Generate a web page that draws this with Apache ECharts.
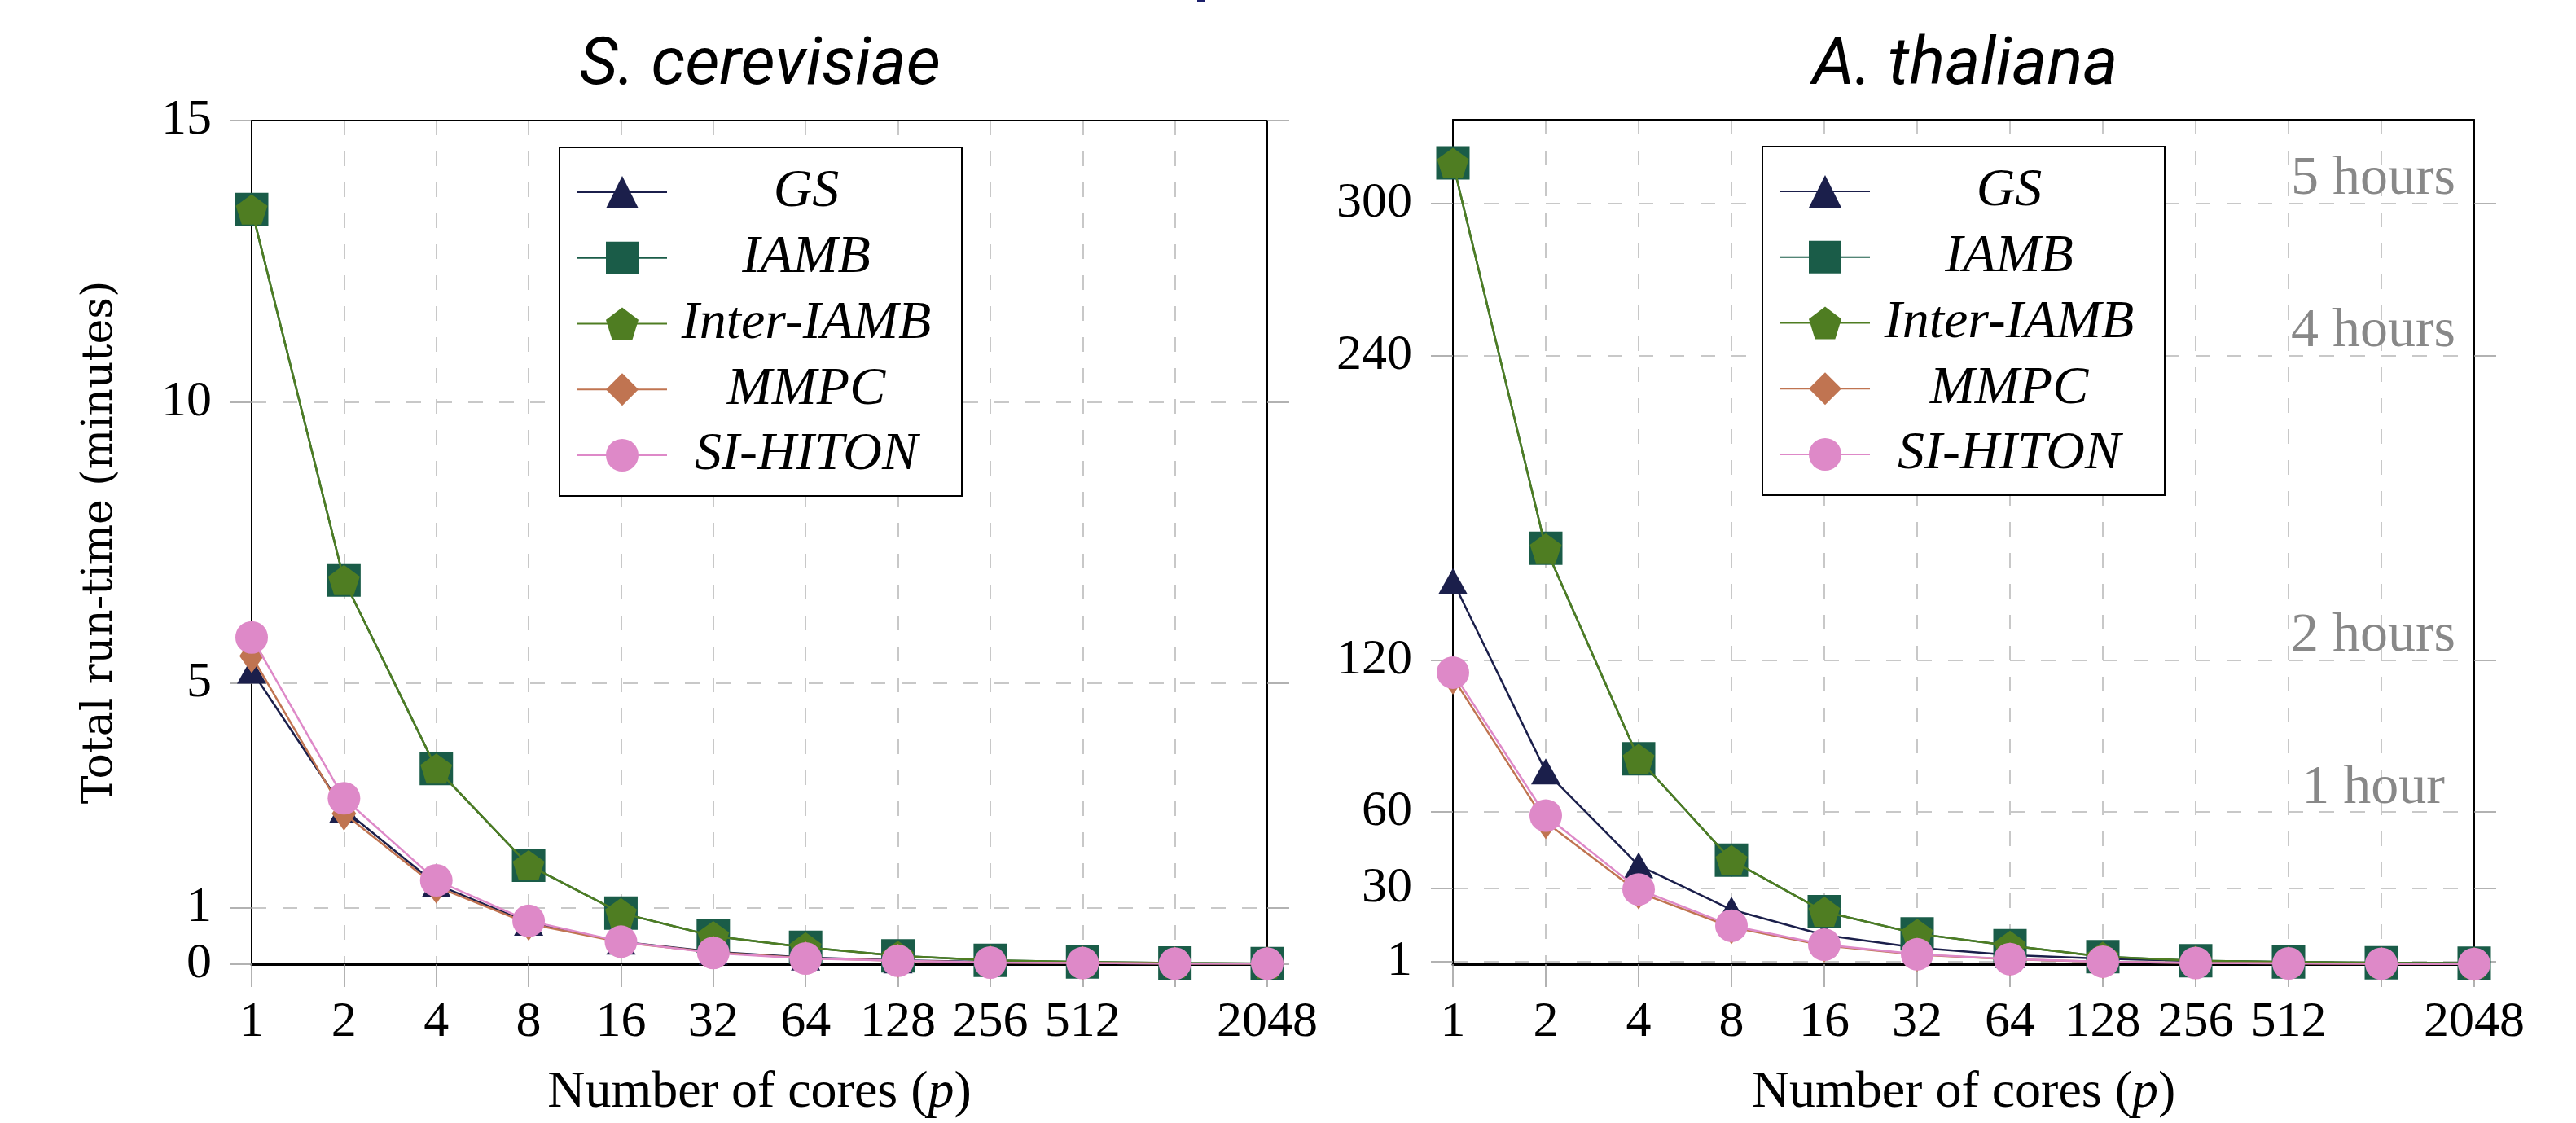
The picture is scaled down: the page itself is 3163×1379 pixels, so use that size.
<!DOCTYPE html>
<html>
<head>
<meta charset="utf-8">
<script src="https://cdn.jsdelivr.net/npm/echarts@6/dist/echarts.min.js"></script>
<style>
html,body{margin:0;padding:0;background:#fff;}
#chart{width:3163px;height:1379px;}
</style>
</head>
<body>
<div id="chart"></div>
<script>
// ---------- data ----------
var cores = ['1','2','4','8','16','32','64','128','256','512','1024','2048'];
var seriesNames = ['GS','IAMB','Inter-IAMB','MMPC','SI-HITON'];

// S. cerevisiae (minutes)
var scGS    = [5.22, 2.75, 1.42, 0.74, 0.40, 0.22, 0.12, 0.07, 0.04, 0.02, 0.01, 0.01];
var scIAMB  = [13.42, 6.83, 3.48, 1.76, 0.91, 0.50, 0.30, 0.15, 0.07, 0.04, 0.02, 0.01];
var scInter = [13.42, 6.83, 3.48, 1.76, 0.91, 0.50, 0.30, 0.15, 0.07, 0.04, 0.02, 0.01];
var scMMPC  = [5.48, 2.68, 1.38, 0.72, 0.39, 0.21, 0.11, 0.06, 0.03, 0.02, 0.01, 0.01];
var scSI    = [5.81, 2.95, 1.49, 0.77, 0.40, 0.20, 0.10, 0.06, 0.03, 0.02, 0.01, 0.01];

// A. thaliana (minutes)
var atGS    = [151, 76, 39, 21.5, 11.5, 6.5, 3.6, 2.2, 1.3, 0.8, 0.5, 0.3];
var atIAMB  = [316, 164, 81, 41, 20.7, 12, 7.3, 3, 1.4, 0.9, 0.6, 0.4];
var atInter = [316, 164, 81, 41, 20.7, 12, 7.3, 3, 1.4, 0.9, 0.6, 0.4];
var atMMPC  = [113, 56, 28.3, 14.6, 7.4, 3.8, 1.9, 1.0, 0.5, 0.3, 0.2, 0.1];
var atSI    = [115, 58.6, 29.5, 15.2, 7.7, 3.9, 2.0, 1.0, 0.5, 0.3, 0.2, 0.1];

// tick labels
var scTicks = [0, 1, 5, 10, 15];
var atTicks = [1, 30, 60, 120, 240, 300];
var hiddenXLabel = '1024';
var hourLabels = ['5 hours', '4 hours', '2 hours', '1 hour'];
var hourValues = [300, 240, 120, 60];
var hourAnchor = '1024';

// ---------- styles ----------
var SERIF = 'Liberation Serif';
var colors = ['#1b1f4b', '#1a5c48', '#4f7d22', '#c07451', '#de89c8'];
var pentagon = 'path://M0,-1 L0.951,-0.309 L0.588,0.809 L-0.588,0.809 L-0.951,-0.309 Z';
var symbols = ['triangle', 'rect', pentagon, 'diamond', 'circle'];
var symbolSizes = [[36, 32], [41, 41], [39, 37], [30, 42], [40, 40]];
var gridDash = {color: '#c8c8c8', width: 2, type: [18, 20]};
var tickStyle = {color: '#999', width: 1.5};

var chart = echarts.init(document.getElementById('chart'), null, {renderer: 'canvas'});

function makeX(gridIndex) {
  return {
    type: 'category', gridIndex: gridIndex, data: cores, boundaryGap: false, position: 'bottom', z: 0,
    axisLine: {show: true, onZero: false, lineStyle: {color: '#000', width: 3}},
    axisTick: {show: true, inside: false, length: 28, interval: 0, lineStyle: tickStyle},
    axisLabel: {interval: 0, margin: 41, fontFamily: SERIF, fontSize: 62, color: '#000',
      formatter: function (v) { return v === hiddenXLabel ? '' : v; }},
    splitLine: {show: true, interval: 0, lineStyle: gridDash},
    name: 'Number of cores ({i|p})', nameLocation: 'middle', nameGap: 126,
    nameTextStyle: {fontFamily: SERIF, fontSize: 64, color: '#000',
      rich: {i: {fontFamily: SERIF, fontSize: 64, fontStyle: 'italic', color: '#000'}}}
  };
}
function makeXTop(gridIndex) {
  return {
    type: 'category', gridIndex: gridIndex, data: cores, boundaryGap: false, position: 'top', z: 1,
    axisLine: {show: true, onZero: false, lineStyle: {color: '#000', width: 2}},
    axisTick: {show: false}, axisLabel: {show: false}, splitLine: {show: false}
  };
}
function makeYLeft(gridIndex, max, ticks, margin, name) {
  var o = {
    type: 'value', gridIndex: gridIndex, min: 0, max: max, position: 'left', z: 0,
    axisLine: {show: true, lineStyle: {color: '#000', width: 2}},
    axisTick: {show: true, inside: false, length: 27, customValues: ticks, lineStyle: tickStyle},
    axisLabel: {show: true, margin: margin, customValues: ticks, fontFamily: SERIF, fontSize: 62, color: '#000'},
    splitLine: {show: true, lineStyle: gridDash}
  };
  if (name) {
    o.name = name; o.nameLocation = 'middle'; o.nameGap = 160;
    o.nameTextStyle = {fontFamily: 'DejaVu Serif', fontSize: 52, color: '#000'};
  }
  return o;
}
function makeYRight(gridIndex, max, ticks) {
  return {
    type: 'value', gridIndex: gridIndex, min: 0, max: max, position: 'right', z: 1,
    axisLine: {show: true, lineStyle: {color: '#000', width: 2}},
    axisTick: {show: true, inside: false, length: 27, customValues: ticks, lineStyle: tickStyle},
    axisLabel: {show: false, customValues: ticks},
    splitLine: {show: false}
  };
}
function makeSeries(xi, yi, datas) {
  return datas.map(function (d, k) {
    return {
      name: seriesNames[k], type: 'line', xAxisIndex: xi, yAxisIndex: yi, data: d,
      symbol: symbols[k], symbolSize: symbolSizes[k], showSymbol: true, showAllSymbol: true,
      clip: false, z: 3 + k,
      lineStyle: {color: colors[k], width: 2.5},
      itemStyle: {color: colors[k]},
      emphasis: {disabled: true}
    };
  });
}
function makeLegend(left, top) {
  return {
    data: seriesNames, orient: 'vertical', left: left, top: top, z: 10,
    itemWidth: 110, itemHeight: 50, itemGap: 14.75,
    padding: [22, 25, 17, 21],
    backgroundColor: '#fff', borderColor: '#000', borderWidth: 2,
    selectedMode: false,
    formatter: function (n) { return '{t|' + n + '}'; },
    textStyle: {rich: {t: {width: 332, align: 'center', fontSize: 66, lineHeight: 60,
      fontStyle: 'italic', fontFamily: SERIF, color: '#000'}}}
  };
}

var leftSeries = makeSeries(0, 0, [scGS, scIAMB, scInter, scMMPC, scSI]);
var rightSeries = makeSeries(2, 2, [atGS, atIAMB, atInter, atMMPC, atSI]);
rightSeries[0].markPoint = {
  symbol: 'circle', symbolSize: 1, silent: true,
  itemStyle: {color: 'rgba(0,0,0,0)'},
  label: {show: true, position: 'top', distance: 1, offset: [-10, 6], fontFamily: SERIF, fontSize: 68, color: '#888',
    formatter: function (p) { return p.name; }},
  data: hourLabels.map(function (l, i) { return {name: l, coord: [hourAnchor, hourValues[i]]}; })
};

chart.setOption({
  animation: false,
  backgroundColor: '#fff',
  title: [
    {text: 'S. cerevisiae', left: 928, top: 36, textAlign: 'center',
      textStyle: {fontFamily: 'Roboto', fontStyle: 'italic', fontWeight: 'normal', fontSize: 82, color: '#000'}},
    {text: 'A. thaliana', left: 2408, top: 36, textAlign: 'center',
      textStyle: {fontFamily: 'Roboto', fontStyle: 'italic', fontWeight: 'normal', fontSize: 82, color: '#000'}}
  ],
  grid: [
    {left: 309, top: 148, width: 1247, height: 1037, show: false},
    {left: 1784, top: 147, width: 1254, height: 1042, show: false}
  ],
  legend: [makeLegend(687, 181), makeLegend(2164, 180)],
  xAxis: [makeX(0), makeXTop(0), makeX(1), makeXTop(1)],
  yAxis: [
    makeYLeft(0, 15, scTicks, 49, 'Total run-time (minutes)'),
    makeYRight(0, 15, scTicks),
    makeYLeft(1, 333, atTicks, 50, null),
    makeYRight(1, 333, atTicks)
  ],
  graphic: [{type: 'rect', left: 1470, top: 0, shape: {width: 10, height: 2}, style: {fill: '#1b1f6b'}}],
  series: leftSeries.concat(rightSeries)
});
</script>
</body>
</html>
